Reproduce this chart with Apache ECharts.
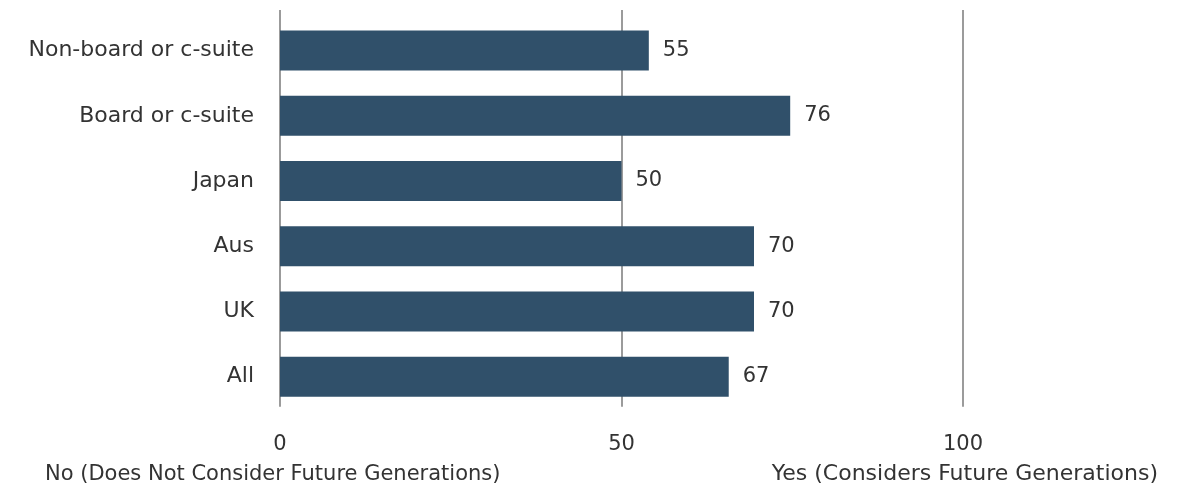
<!DOCTYPE html>
<html><head><meta charset="utf-8">
<script src="https://cdn.jsdelivr.net/npm/echarts@6/dist/echarts.min.js"></script>
<style>html,body{margin:0;padding:0;background:#fff}#c{width:1189px;height:493px}</style>
</head><body><div id="c"></div>
<script>
const categories = ["Non-board or c-suite", "Board or c-suite", "Japan", "Aus", "UK", "All"];
const values = [54, 74.7, 50, 69.4, 69.4, 65.7];
const valueLabels = ["55", "76", "50", "70", "70", "67"];
const xTicks = [0, 50, 100];
const leftAxisTitle = "No (Does Not Consider Future Generations)";
const rightAxisTitle = "Yes (Considers Future Generations)";

const FONT = "DejaVu Sans";
const TXT = "#333333";
const chart = echarts.init(document.getElementById('c'), null, {renderer: 'canvas'});
chart.setOption({
  animation: false,
  textStyle: {fontFamily: FONT},
  grid: [
    {left: 280, width: 683, top: 18, height: 391.3},
    {left: 280, width: 683, top: 10, height: 396.7}
  ],
  xAxis: [
    {gridIndex: 0, type: 'value', min: xTicks[0], max: xTicks[xTicks.length-1], interval: 50,
     axisLine: {show: false}, axisTick: {show: false}, splitLine: {show: false},
     axisLabel: {color: TXT, fontSize: 21, margin: 25, fontFamily: FONT}},
    {gridIndex: 1, type: 'value', min: 0, max: 100, interval: 50,
     axisLine: {show: false}, axisTick: {show: false}, axisLabel: {show: false},
     splitLine: {show: true, lineStyle: {color: '#7a7a7a', width: 1.5}}}
  ],
  yAxis: [
    {gridIndex: 0, type: 'category', data: categories, inverse: true,
     axisLine: {show: false}, axisTick: {show: false},
     axisLabel: {color: TXT, fontSize: 22, margin: 26, fontFamily: FONT}},
    {gridIndex: 1, type: 'category', data: categories, show: false}
  ],
  series: [{
    type: 'bar', xAxisIndex: 0, yAxisIndex: 0, data: values, barWidth: 40,
    zlevel: 1, z: 10,
    itemStyle: {color: '#30506a'},
    label: {show: true, position: 'right', distance: 14, color: TXT, fontSize: 21, fontFamily: FONT,
      formatter: p => valueLabels[p.dataIndex]}
  }],
  graphic: [
    {type: 'text', left: 45, top: 464, z: 10, style: {text: leftAxisTitle, fill: TXT, font: '21px "' + FONT + '"'}},
    {type: 'text', right: 31, top: 463, z: 10, style: {text: rightAxisTitle, fill: TXT, font: '22px "' + FONT + '"'}}
  ]
});
</script></body></html>
